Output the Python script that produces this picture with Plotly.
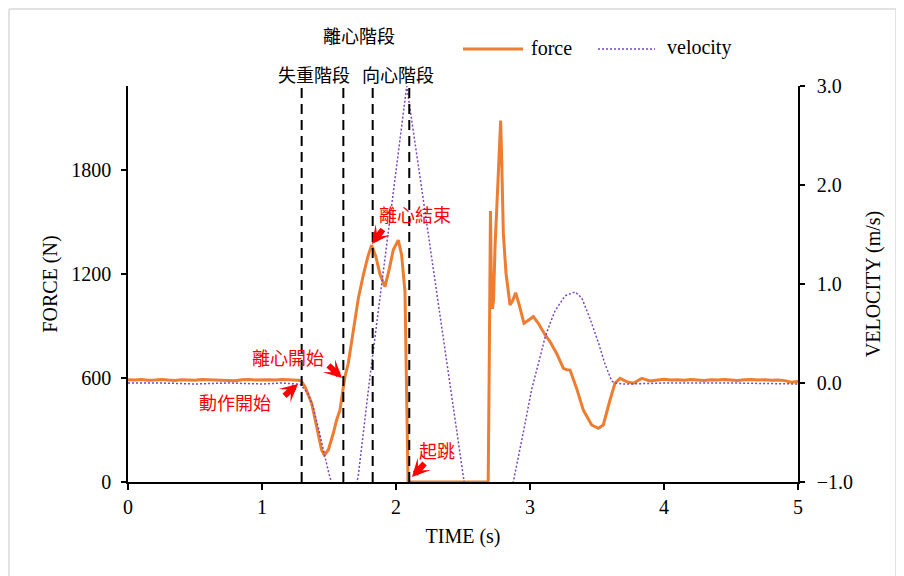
import plotly.graph_objects as go

# ---------------- data ----------------
time_force = [0, 0.05, 0.1, 0.15, 0.2, 0.25, 0.3, 0.35, 0.4, 0.45, 0.5, 0.55, 0.6, 0.65,
              0.7, 0.75, 0.8, 0.85, 0.9, 0.95, 1.0, 1.05, 1.1, 1.15, 1.2, 1.25, 1.29,
              1.321, 1.371, 1.408, 1.445, 1.465, 1.495, 1.532, 1.557, 1.582, 1.602, 1.619,
              1.644, 1.68, 1.719, 1.756, 1.79, 1.818, 1.85, 1.88, 1.918, 1.95, 1.98, 2.017,
              2.042, 2.067, 2.075, 2.082, 2.09, 2.3, 2.5, 2.688, 2.695, 2.705, 2.712, 2.72,
              2.728, 2.739, 2.756, 2.772, 2.781, 2.789, 2.795, 2.801, 2.821, 2.851, 2.87,
              2.893, 2.92, 2.955, 2.99, 3.025, 3.062, 3.112, 3.149, 3.199, 3.249, 3.275,
              3.299, 3.348, 3.398, 3.46, 3.51, 3.547, 3.597, 3.634, 3.672, 3.721, 3.771,
              3.834, 3.896, 3.95, 4.0, 4.05, 4.1, 4.15, 4.2, 4.25, 4.3, 4.35, 4.4, 4.45,
              4.5, 4.55, 4.6, 4.65, 4.7, 4.75, 4.8, 4.85, 4.9, 4.95, 5.0]
force = [590, 588, 591, 587, 589, 592, 588, 586, 590, 589, 587, 591, 590, 588,
         586, 589, 584, 590, 592, 589, 591, 590, 588, 592, 590, 589, 586,
         550, 454, 319, 185, 156, 185, 281, 358, 415, 512, 608,
         685, 870, 1060, 1194, 1300, 1367, 1300, 1200, 1127, 1230, 1340, 1396,
         1310, 1098, 600, 150, 0, 0, 0, 0, 600, 1564, 1100, 1000,
         1050, 1358, 1646, 1950, 2085, 1850, 1666, 1435, 1204, 1021, 1045,
         1092, 1021, 916, 935, 954, 916, 850, 810, 742, 656, 648,
         646, 540, 415, 329, 310, 329, 473, 570, 598, 579, 570,
         598, 583, 590, 593, 588, 590, 587, 591, 589, 586, 590, 588, 591,
         589, 586, 590, 592, 588, 590, 587, 589, 585, 576, 580]

time_velocity = [0, 0.25, 0.5, 0.75, 1.0, 1.15, 1.25, 1.284, 1.345, 1.383, 1.42, 1.458,
                 1.495, 1.513, 1.56, 1.62, 1.706, 1.719, 1.80, 1.818, 1.90, 1.985, 2.08,
                 2.19, 2.30, 2.40, 2.51, 2.60, 2.69, 2.78, 2.875, 2.95, 3.013, 3.075, 3.112,
                 3.149, 3.187, 3.261, 3.336, 3.386, 3.448, 3.51, 3.56, 3.61, 3.634, 3.70,
                 3.75, 4.0, 4.5, 5.0]
velocity = [0.0, 0.0, -0.01, 0.0, -0.01, 0.0, -0.01, -0.01, -0.11, -0.25, -0.45, -0.69,
            -0.89, -0.98, -1.3, -1.6, -1.0, -0.93, 0.0, 0.19, 1.07, 1.98, 3.0,
            1.98, 0.95, 0.02, -1.0, -1.85, -2.7, -1.7, -1.0, -0.5, -0.06, 0.26, 0.46,
            0.6, 0.73, 0.88, 0.92, 0.86, 0.65, 0.41, 0.19, 0.02, 0.0, -0.01,
            -0.01, 0.0, 0.0, -0.01]

phase_times = [1.296, 1.607, 1.826, 2.099]
x_ticks = [0, 1, 2, 3, 4, 5]
force_ticks = [0, 600, 1200, 1800]
velocity_ticks = [-1.0, 0.0, 1.0, 2.0, 3.0]

# ---------------- layout geometry ----------------
# the page body adds an 8px offset; positions below are given in screenshot pixels
OFF = 8
FIG_W, FIG_H = 896, 568
L, R, T, B = 128, 798, 86, 482          # plot area in screenshot pixels
X_RANGE = [0, 5]
F_RANGE = [0, 2285]
V_RANGE = [-1, 3]


def px_x(px):
    return X_RANGE[0] + (px - L) / (R - L) * (X_RANGE[1] - X_RANGE[0])


def py_f(py):
    return F_RANGE[0] + (B - py) / (B - T) * (F_RANGE[1] - F_RANGE[0])


def py_paper(py):
    return (B - py) / (B - T)


def px_paper(px):
    return (px - L) / (R - L)


SERIF = "Liberation Serif, Times New Roman, serif"
CJK = "Noto Sans CJK TC, Noto Sans CJK JP, sans-serif"
ORANGE = "#ED7D31"
PURPLE = "#7A45C0"

fig = go.Figure()
fig.add_trace(go.Scatter(x=time_force, y=force, name="force", mode="lines",
                         showlegend=False, line=dict(color=ORANGE, width=3)))
fig.add_trace(go.Scatter(x=time_velocity, y=velocity, name="velocity", mode="lines",
                         yaxis="y2", showlegend=False,
                         line=dict(color=PURPLE, width=1.5, dash="2px,2px")))

shapes = []
for t in phase_times:
    shapes.append(dict(type="line", xref="x", yref="paper", x0=t, x1=t, y0=0, y1=1,
                       line=dict(color="black", width=2, dash="10px,6px")))
# outer chart border
border = dict(color="#D9D9D9", width=1.5)
shapes.append(dict(type="line", xref="paper", yref="paper", x0=px_paper(9), x1=px_paper(896),
                   y0=py_paper(9), y1=py_paper(9), line=border))
shapes.append(dict(type="line", xref="paper", yref="paper", x0=px_paper(9), x1=px_paper(9),
                   y0=py_paper(9), y1=py_paper(600), line=border))
shapes.append(dict(type="line", xref="paper", yref="paper", x0=px_paper(896), x1=px_paper(896),
                   y0=py_paper(9), y1=py_paper(600), line=border))
# legend samples
shapes.append(dict(type="line", xref="paper", yref="paper", x0=px_paper(463), x1=px_paper(523),
                   y0=py_paper(49), y1=py_paper(49), line=dict(color=ORANGE, width=3)))
shapes.append(dict(type="line", xref="paper", yref="paper", x0=px_paper(598), x1=px_paper(655),
                   y0=py_paper(49), y1=py_paper(49),
                   line=dict(color=PURPLE, width=1.5, dash="2px,2px")))

annotations = []
# legend texts
for txt, lx in [("force", 529), ("velocity", 665)]:
    annotations.append(dict(text=txt, x=px_paper(lx), y=py_paper(48), xref="paper", yref="paper",
                            showarrow=False, xanchor="left", yanchor="middle",
                            font=dict(family=SERIF, size=20, color="black")))
# black phase labels
for txt, cx, cy in [("離心階段", 359, 35), ("失重階段", 314, 73.5), ("向心階段", 398, 73.5)]:
    annotations.append(dict(text=txt, x=px_paper(cx), y=py_paper(cy), xref="paper", yref="paper",
                            showarrow=False, xanchor="center", yanchor="middle",
                            font=dict(family=CJK, size=18, color="black")))
# red event labels
for txt, cx, cy in [("離心開始", 288, 357), ("動作開始", 235, 401.5),
                    ("離心結束", 415, 214), ("起跳", 437, 450)]:
    annotations.append(dict(text=txt, x=px_x(cx), y=py_f(cy), xref="x", yref="y",
                            showarrow=False, xanchor="center", yanchor="middle",
                            font=dict(family=CJK, size=18, color="#FF0000")))
# red block arrows (tip pixel, tail pixel)
for (tx, ty), (sx, sy) in [((298, 384), (283, 397)), ((342, 378), (327, 364)),
                           ((372, 244), (384, 228)), ((412, 477), (426, 462))]:
    annotations.append(dict(text="", x=px_x(tx), y=py_f(ty), xref="x", yref="y",
                            ax=sx - tx, ay=sy - ty, showarrow=True, arrowhead=3,
                            arrowwidth=6, arrowsize=0.5, arrowcolor="#FF0000", standoff=0))

fig.update_layout(
    width=FIG_W, height=FIG_H, autosize=False,
    margin=dict(l=L - OFF, r=FIG_W + OFF - R, t=T - OFF, b=FIG_H + OFF - B),
    paper_bgcolor="white", plot_bgcolor="white",
    font=dict(family=SERIF, size=20, color="black"),
    showlegend=False,
    xaxis=dict(range=X_RANGE, tickvals=x_ticks, showgrid=False, zeroline=False,
               showline=True, linecolor="black", linewidth=2, ticks="outside", ticklen=6,
               tickcolor="black", tickwidth=1.5, layer="below traces", automargin=False,
               tickfont=dict(family=SERIF, size=20, color="black"),
               title=dict(text="TIME (s)", font=dict(family=SERIF, size=20), standoff=12)),
    yaxis=dict(range=F_RANGE, tickvals=force_ticks, showgrid=False, zeroline=False,
               showline=True, linecolor="black", linewidth=1.5, ticks="outside", ticklen=5,
               tickcolor="black", tickwidth=1.5, ticklabelstandoff=6, automargin=False,
               tickfont=dict(family=SERIF, size=20, color="black"),
               title=dict(text="FORCE (N)", font=dict(family=SERIF, size=20), standoff=8)),
    yaxis2=dict(range=V_RANGE, tickvals=velocity_ticks, tickformat=".1f", overlaying="y",
                side="right", showgrid=False, zeroline=False, showline=True,
                linecolor="black", linewidth=1.5, ticks="outside", ticklen=5,
                tickcolor="black", tickwidth=1.5, ticklabelstandoff=8, automargin=False,
                tickfont=dict(family=SERIF, size=20, color="black"),
                title=dict(text="VELOCITY (m/s)", font=dict(family=SERIF, size=20), standoff=14)),
    shapes=shapes,
    annotations=annotations,
)

fig.write_html("out.html")
